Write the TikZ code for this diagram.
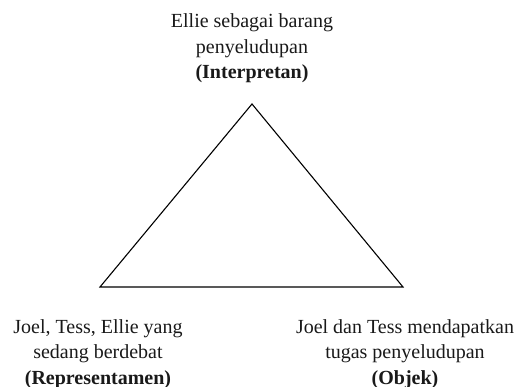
\documentclass[tikz,border=0pt]{standalone}
\usepackage{fontspec}
\setmainfont{Liberation Serif}
\usetikzlibrary{positioning}
\begin{document}
\begin{tikzpicture}
        [   x = 1pt
        ,   y = 1pt
        ,   teks/.style =
            {   align = center
            ,   inner sep = 0pt
            ,   text = black!90
            ,   font = \fontsize{20}{25.5}\selectfont
            }
        ,   sisi/.style =
            {   line width = 1.1pt
            ,   line join = miter
            }
        ]
        \useasboundingbox (0,0) rectangle (515,387);
        \coordinate (puncak) at (252,283);
        \coordinate (kiri) at (100,100);
        \coordinate (kanan) at (403,100);
        \draw [sisi] (puncak) -- (kiri) -- (kanan) -- cycle;
        \node [teks, above = 21pt of puncak] (interpretan)
        {   Ellie sebagai barang\\ penyeludupan\\ \textbf{(Interpretan)}
        };
        \node [teks, below = 32pt of kiri, xshift = -2pt] (representamen)
        {   Joel, Tess, Ellie yang\\ sedang berdebat\\ \textbf{(Representamen)}
        };
        \node [teks, below = 32pt of kanan, xshift = 2pt] (objek)
        {   Joel dan Tess mendapatkan\\ tugas penyeludupan\\ \textbf{(Objek)}
        };
    \end{tikzpicture}
\end{document}
